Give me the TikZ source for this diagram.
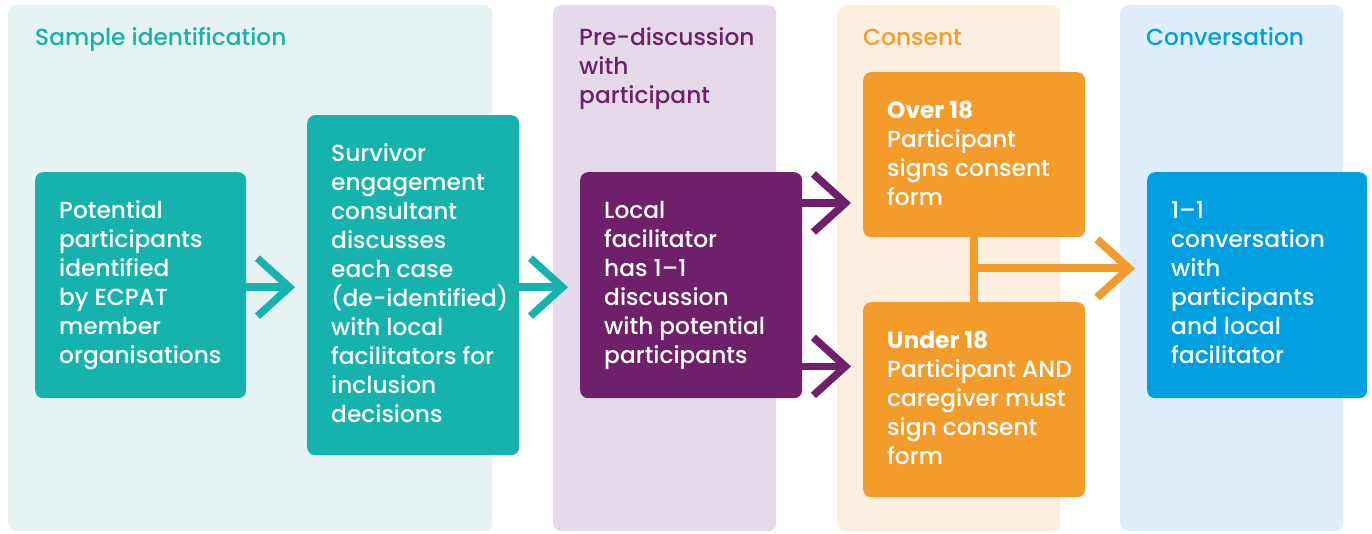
\documentclass[tikz,border=0pt]{standalone}
\usepackage{fontspec}
\setmainfont{Poppins}[UprightFont=* Medium, BoldFont=* Bold]
\usetikzlibrary{arrows.meta,calc}
\definecolor{tealc}{RGB}{22,179,172}
\definecolor{tealbg}{RGB}{231,243,243}
\definecolor{purpc}{RGB}{110,33,106}
\definecolor{purpbg}{RGB}{230,218,234}
\definecolor{orngc}{RGB}{243,156,44}
\definecolor{orngbg}{RGB}{253,239,224}
\definecolor{bluc}{RGB}{0,159,224}
\definecolor{blubg}{RGB}{222,239,251}
\newcommand{\boxtxt}[3]{\parbox[t][#1][t]{#2}{\raggedright\leftskip=24pt\rule{0pt}{46pt}#3}}
\tikzset{
  panel/.style={rounded corners=8pt, inner sep=0pt, anchor=north west, minimum height=526pt},
  stepbox/.style={rounded corners=8pt, inner sep=0pt, anchor=north west, text=white, font=\fontsize{23.3}{29}\selectfont},
  head/.style={inner sep=0pt, anchor=base west, font=\fontsize{23.3}{29}\selectfont},
  conn/.style={line width=7.5pt, -{Straight Barb[sharp, length=32pt, width=58pt]}, shorten >=12pt}
}
\begin{document}
\begin{tikzpicture}[x=1pt, y=-1pt]
\useasboundingbox (0,0) rectangle (1372,533);
% panels
\node[panel, fill=tealbg, minimum width=484pt] (p1) at (8,5) {};
\node[panel, fill=purpbg, minimum width=223pt] (p2) at (553,5) {};
\node[panel, fill=orngbg, minimum width=223pt] (p3) at (837,5) {};
\node[panel, fill=blubg, minimum width=223pt] (p4) at (1120,5) {};
% headers
\node[head, text=tealc] (h1) at (35,45) {Sample identification};
\node[head, text=purpc] (h2) at (579,45) {\parbox[t]{200pt}{\raggedright Pre-discussion\\with\\participant}};
\node[head, text=orngc] (h3) at (863,45) {Consent};
\node[head, text=bluc] (h4) at (1146,45) {Conversation};
% boxes
\node[stepbox, fill=tealc] (a) at (35,172) {\boxtxt{226pt}{211pt}{Potential\\participants\\identified\\by~ECPAT\\member\\organisations}};
\node[stepbox, fill=tealc] (b) at (307,115) {\boxtxt{340pt}{212pt}{Survivor\\engagement\\consultant\\discusses\\each~case\\(de-identified)\\with~local\\facilitators~for\\inclusion\\decisions}};
\node[stepbox, fill=purpc] (c) at (580,172) {\boxtxt{226pt}{222pt}{Local\\facilitator\\has~1–1\\discussion\\with~potential\\participants}};
\node[stepbox, fill=orngc] (d) at (863,72) {\boxtxt{165pt}{222pt}{\textbf{Over~18}\\Participant\\signs~consent\\form}};
\node[stepbox, fill=orngc] (e) at (863,302) {\boxtxt{195pt}{222pt}{\textbf{Under~18}\\Participant~AND\\caregiver~must\\sign~consent\\form}};
\node[stepbox, fill=bluc] (f) at (1147,172) {\boxtxt{226pt}{220pt}{1–1\\conversation\\with\\participants\\and~local\\facilitator}};
% connectors
\draw[conn, tealc] ($(a.east)+(0,2)$) -- ($(b.west |- a.east)+(0,2)$);
\draw[conn, tealc] ($(b.east)+(0,2)$) -- ($(c.west)+(0,2)$);
\coordinate (c1) at ($(c.north east)+(0,31)$);
\coordinate (c2) at ($(c.south east)+(0,-32)$);
\draw[conn, purpc] (c1) -- (d.west |- c1);
\draw[conn, purpc] (c2) -- (e.west |- c2);
\draw[orngc, line width=8pt] (d.south) -- (e.north);
\coordinate (j) at ($(d.south)!0.48!(e.north)$);
\draw[conn, orngc, line width=8pt] (j) -- (f.west |- j);
\end{tikzpicture}
\end{document}
